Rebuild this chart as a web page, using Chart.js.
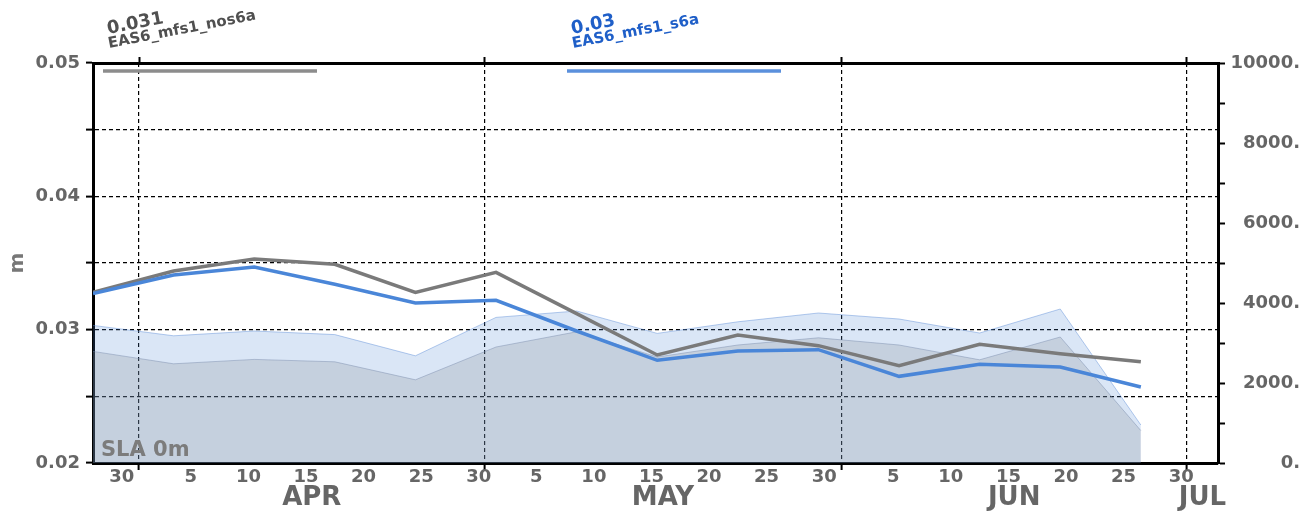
<!DOCTYPE html>
<html>
<head>
<meta charset="utf-8">
<script src="https://cdn.jsdelivr.net/npm/chart.js@4.4.1/dist/chart.umd.min.js"></script>
<style>
  html, body { margin: 0; padding: 0; background: #ffffff; }
  #wrap { width: 1304px; height: 515px; position: relative; }
</style>
</head>
<body>
<div id="wrap"><canvas id="c"></canvas></div>
<script>
// Weekly analysis dates (month-day)
const dates = ['03-28', '04-04', '04-11', '04-18', '04-25', '05-02', '05-09',
               '05-16', '05-23', '05-30', '06-06', '06-13', '06-20', '06-27'];

// Sea level anomaly RMS (m), left axis
const slaNos6a = [0.0328, 0.0344, 0.0353, 0.0349, 0.0328, 0.0343, 0.0312,
                  0.0281, 0.0296, 0.0288, 0.0273, 0.0289, 0.0282, 0.0276];
const slaS6a   = [0.0327, 0.0341, 0.0347, 0.0334, 0.0320, 0.0322, 0.0299,
                  0.0277, 0.0284, 0.0285, 0.0265, 0.0274, 0.0272, 0.0257];

// Number of observations, right axis
const countS6a   = [3440, 3180, 3300, 3210, 2680, 3640, 3800,
                    3240, 3530, 3750, 3600, 3250, 3850, 950];
const countNos6a = [2790, 2480, 2590, 2530, 2080, 2900, 3280,
                    2650, 2950, 3130, 2950, 2580, 3150, 810];

const seriesNames = ['EAS6_mfs1_nos6a', 'EAS6_mfs1_s6a'];

// Axis ticks and labels
const leftTickValues  = [0.02, 0.025, 0.03, 0.035, 0.04, 0.045, 0.05];
const leftTickLabels  = ['0.02', '', '0.03', '', '0.04', '', '0.05'];
const rightTickValues = [0, 1000, 2000, 3000, 4000, 5000, 6000, 7000, 8000, 9000, 10000];
const rightTickLabels = ['0.', '', '2000.', '', '4000.', '', '6000.', '', '8000.', '', '10000.'];
const dayTickDates = ['03-30', '04-05', '04-10', '04-15', '04-20', '04-25', '04-30',
                      '05-05', '05-10', '05-15', '05-20', '05-25', '05-30',
                      '06-05', '06-10', '06-15', '06-20', '06-25', '06-30'];
const monthStartDates = ['04-01', '05-01', '06-01', '07-01'];
const monthEndDates   = ['05-01', '06-01', '07-01', '08-01'];
const monthNames      = ['APR', 'MAY', 'JUN', 'JUL'];

// Days counted from 1 April
function dayOf(md) {
  const [m, d] = md.split('-').map(Number);
  return (Date.UTC(2001, m - 1, d) - Date.UTC(2001, 3, 1)) / 86400000;
}
function mean(a) { return a.reduce((s, v) => s + v, 0) / a.length; }
function fmtMean(v) { return v.toFixed(3).replace(/0+$/, '').replace(/\.$/, ''); }

const xMin = dayOf(dates[0]);
const xMax = dayOf('07-03') + 0.7;

// Bottom axis: month boundaries (grid + tick marks) and day labels at midday
const xTicks = [];
monthStartDates.forEach(md => xTicks.push({ value: dayOf(md), label: '', boundary: true }));
dayTickDates.forEach(md => xTicks.push({ value: dayOf(md) + 0.5, label: String(Number(md.split('-')[1])), boundary: false }));
xTicks.sort((a, b) => a.value - b.value);

const monthCenters = monthStartDates.map((md, i) => {
  const s = Math.max(dayOf(md), xMin);
  const e = Math.min(dayOf(monthEndDates[i]), xMax);
  return (s + e) / 2;
});

const toPoints = vals => dates.map((d, i) => ({ x: dayOf(d), y: vals[i] }));

const FONT = 'DejaVu Sans';
const LABEL_GRAY = '#666666';
const tickFont = { family: FONT, size: 18, weight: 'bold' };

const GRAY_LINE = '#7a7a7a';
const BLUE_LINE = '#4a86d8';

const boundaryColor = c => (c.index !== undefined && xTicks[c.index] && xTicks[c.index].boundary) ? '#000000' : 'rgba(0,0,0,0)';

const overlay = {
  id: 'overlay',
  afterDraw(chart) {
    const { ctx, chartArea: a } = chart;
    ctx.save();
    // key lines along the top, each with its series name and mean value
    const keys = [
      { x0: a.left + 10, x1: a.left + 224, line: '#8c8c8c', text: '#505050', name: seriesNames[0], val: fmtMean(mean(slaNos6a)) },
      { x0: a.left + 474, x1: a.left + 688, line: '#5b90dc', text: '#1f5fc8', name: seriesNames[1], val: fmtMean(mean(slaS6a)) }
    ];
    keys.forEach(k => {
      ctx.strokeStyle = k.line;
      ctx.lineWidth = 3.5;
      ctx.beginPath();
      ctx.moveTo(k.x0, a.top + 8);
      ctx.lineTo(k.x1, a.top + 8);
      ctx.stroke();

      ctx.save();
      ctx.translate(k.x0 + 6, a.top - 15);
      ctx.rotate(-11 * Math.PI / 180);
      ctx.fillStyle = k.text;
      ctx.textAlign = 'left';
      ctx.textBaseline = 'alphabetic';
      ctx.font = 'bold 15px "' + FONT + '"';
      ctx.fillText(k.name, 0, 0);
      ctx.font = 'bold 18px "' + FONT + '"';
      ctx.fillText(k.val, 2, -14);
      ctx.restore();
    });

    // depth tag
    ctx.fillStyle = '#7c7c7c';
    ctx.font = 'bold 21px "' + FONT + '"';
    ctx.textAlign = 'left';
    ctx.textBaseline = 'alphabetic';
    ctx.fillText('SLA 0m', a.left + 8, a.bottom - 7);
    ctx.restore();
  }
};

new Chart(document.getElementById('c'), {
  type: 'line',
  data: {
    datasets: [
      { label: seriesNames[1], data: toPoints(slaS6a), yAxisID: 'y', xAxisID: 'x',
        borderColor: BLUE_LINE, borderWidth: 3.5, pointRadius: 0, fill: false, tension: 0 },
      { label: seriesNames[0], data: toPoints(slaNos6a), yAxisID: 'y', xAxisID: 'x',
        borderColor: GRAY_LINE, borderWidth: 3.5, pointRadius: 0, fill: false, tension: 0 },
      { label: seriesNames[0] + ' obs', data: toPoints(countNos6a), yAxisID: 'y2', xAxisID: 'x',
        borderColor: 'rgba(120,138,170,0.45)', borderWidth: 1, pointRadius: 0, tension: 0,
        fill: 'origin', backgroundColor: 'rgba(134,142,153,0.25)' },
      { label: seriesNames[1] + ' obs', data: toPoints(countS6a), yAxisID: 'y2', xAxisID: 'x',
        borderColor: 'rgba(90,140,215,0.45)', borderWidth: 1, pointRadius: 0, tension: 0,
        fill: 'origin', backgroundColor: 'rgba(70,130,210,0.2)' }
    ]
  },
  options: {
    responsive: true,
    maintainAspectRatio: false,
    animation: false,
    layout: { padding: { left: 0, right: 4, top: 0, bottom: 0 } },
    plugins: { legend: { display: false }, tooltip: { enabled: false } },
    scales: {
      x: {
        type: 'linear', position: 'bottom', weight: 0, min: xMin, max: xMax,
        afterBuildTicks: s => { s.ticks = xTicks.map(t => ({ value: t.value })); },
        afterFit: s => { s.height = 22; },
        grid: { color: boundaryColor, tickColor: boundaryColor, lineWidth: 1.2,
                tickWidth: 2, tickLength: 7, drawTicks: true },
        border: { display: true, color: '#000000', width: 3, dash: [4, 3] },
        ticks: { autoSkip: false, maxRotation: 0, minRotation: 0, padding: 0,
                 color: LABEL_GRAY, font: { family: FONT, size: 18, weight: 'bold', lineHeight: 0.85 },
                 callback: (v, i) => xTicks[i] ? xTicks[i].label : '' }
      },
      x2: {
        type: 'linear', position: 'bottom', weight: 1, min: xMin, max: xMax,
        afterBuildTicks: s => { s.ticks = monthCenters.map(v => ({ value: v })); },
        afterFit: s => { s.height = 30; },
        grid: { display: false, drawTicks: false },
        border: { display: false },
        ticks: { autoSkip: false, maxRotation: 0, minRotation: 0, padding: 0,
                 color: LABEL_GRAY, font: { family: FONT, size: 26, weight: 'bold', lineHeight: 1 },
                 callback: (v, i) => monthNames[i] }
      },
      xTop: {
        type: 'linear', position: 'top', min: xMin, max: xMax,
        afterBuildTicks: s => { s.ticks = monthStartDates.map(md => ({ value: dayOf(md) })); },
        afterFit: s => { s.height = 63; },
        grid: { drawOnChartArea: false, tickColor: '#000000', tickWidth: 2, tickLength: 6 },
        border: { display: true, color: '#000000', width: 3 },
        ticks: { display: false }
      },
      y: {
        position: 'left', weight: 0, min: 0.02, max: 0.05,
        afterBuildTicks: s => { s.ticks = leftTickValues.map(v => ({ value: v })); },
        afterFit: s => { s.width = 93; },
        grid: { color: '#000000', lineWidth: 1.2, tickColor: '#000000', tickWidth: 2, tickLength: 7 },
        border: { display: true, color: '#000000', width: 3, dash: [4, 3] },
        ticks: { padding: 6, color: LABEL_GRAY, font: tickFont,
                 callback: (v, i) => leftTickLabels[i] },
        title: { display: true, text: 'm', color: '#777777',
                 font: { family: FONT, size: 20, weight: 'bold' }, padding: { top: 6, bottom: 0 } }
      },
      y2: {
        position: 'right', min: 0, max: 10000,
        afterBuildTicks: s => { s.ticks = rightTickValues.map(v => ({ value: v })); },
        afterFit: s => { s.width = 82; },
        grid: { drawOnChartArea: false, tickColor: '#000000', tickWidth: 2, tickLength: 7 },
        border: { display: true, color: '#000000', width: 3 },
        ticks: { crossAlign: 'far', color: LABEL_GRAY, font: tickFont,
                 callback: (v, i) => rightTickLabels[i] }
      }
    }
  },
  plugins: [overlay]
});
</script>
</body>
</html>
